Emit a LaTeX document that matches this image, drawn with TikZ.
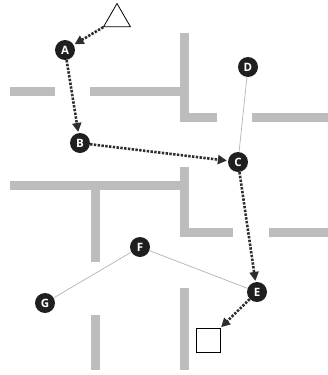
\documentclass[tikz,border=0pt]{standalone}
\usepackage{fontspec}
\setsansfont{Open Sans}
\usetikzlibrary{arrows.meta,shapes.geometric}
\begin{document}
\begin{tikzpicture}[x=1pt,y=-1pt,
  wall/.style={line width=9pt,draw=black!26},
  spot/.style={circle,fill=black!88,text=white,inner sep=0,minimum size=20pt,font=\sffamily\bfseries\fontsize{11.5}{12}\selectfont},
  walk/.style={line width=2.6pt,dash pattern=on 2.4pt off 1.4pt,draw=black!82,shorten >=1pt,-{Triangle[length=9pt,width=9pt]}},
  link/.style={draw=black!30,line width=0.7pt}]
\small
%%
\newcommand{\spotat}[3]{\node[spot](#1) at (#2){#3};}
%%
\useasboundingbox (0,0) rectangle (328,375);
%
% walls
\draw[wall] (10,91) -- (55,91);
\draw[wall] (90,91) -- (184,91);
\draw[wall] (184,33) -- (184,117) -- (217,117);
\draw[wall] (252,117) -- (328,117);
\draw[wall] (10,185) -- (188,185);
\draw[wall] (184,167) -- (184,232) -- (233,232);
\draw[wall] (269,232) -- (328,232);
\draw[wall] (95,185) -- (95,262);
\draw[wall] (95,315) -- (95,370);
\draw[wall] (184,288) -- (184,370);
%
\node[regular polygon,regular polygon sides=3,draw,line width=0.8pt,inner sep=0,minimum size=31pt](start) at (117,19){};
\node[draw,line width=0.8pt,inner sep=0,minimum size=24pt](goal) at (208,340){};
\spotat{A}{65,50}{A}
\spotat{B}{80,143}{B}
\spotat{C}{238,162}{C}
\spotat{D}{248,67}{D}
\spotat{E}{257,292}{E}
\spotat{F}{140,247}{F}
\spotat{G}{45,303}{G}
%
\draw[link] (D) -- (C);
\draw[link] (G) -- (F) -- (E);
\draw[walk] (start) -- (A);
\draw[walk] (A) -- (B);
\draw[walk] (B) -- (C);
\draw[walk] (C) -- (E);
\draw[walk] (E) -- (goal);
\end{tikzpicture}
\end{document}
